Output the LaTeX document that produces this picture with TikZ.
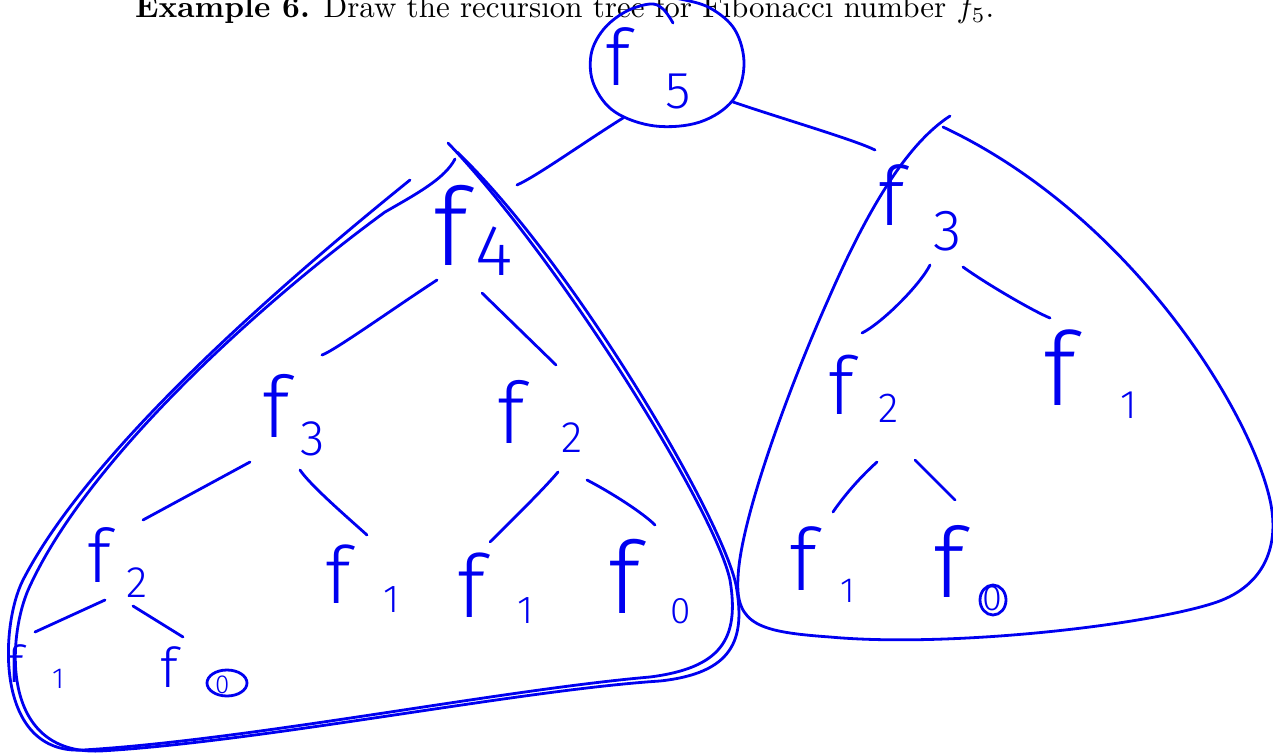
\documentclass[tikz,border=0pt]{standalone}
\usepackage{fontspec}
\usepackage{graphicx}
\newfontfamily\hand{Fira Sans Light}
\definecolor{inkblue}{RGB}{0,0,240}
\tikzset{
  ink/.style={draw=inkblue, line width=2.8pt, line cap=round, line join=round},
  lab/.style={anchor=base west, inner sep=0pt, text=inkblue},
}
% #1 f size, #2 offset of subscript, #3 drop, #4 subscript size, #5 subscript
\newcommand\fib[5]{\makebox[#2pt][l]{\fontsize{#1pt}{#1pt}\hand f}\raisebox{-#3pt}{\fontsize{#4pt}{#4pt}\hand #5}}
\begin{document}
\begin{tikzpicture}[x=1pt,y=-1pt]
\useasboundingbox (0,0) rectangle (1273,752);
\node[anchor=base west, inner sep=0pt] (title) at (135,17.5)
  {\resizebox{859pt}{!}{\textbf{Example 6.} Draw the recursion tree for Fibonacci number $f_5$.}};

% labels
\node[lab] (n5)  at (605,85)  {\fib{78}{60}{23}{52}{5}};
\node[lab] (n4)  at (433,265) {\fib{108}{42}{10}{72}{4}};
\node[lab] (n3R) at (878,225) {\fib{82}{55}{25}{58}{3}};
\node[lab] (n3L) at (262,437) {\fib{85}{38}{18}{50}{3}};
\node[lab] (n2M) at (497,443) {\fib{85}{64}{9}{44}{2}};
\node[lab] (n2R) at (828,414) {\fib{80}{50}{8}{42}{2}};
\node[lab] (n2L) at (87,582)  {\fib{74}{39}{15}{44}{2}};
\node[lab] (n1a) at (325,603) {\fib{79}{58}{9}{39}{1}};
\node[lab] (n1b) at (457,617) {\fib{87}{60}{6}{39}{1}};
\node[lab] (n0b) at (608,613) {\fib{100}{62}{10}{37}{0}};
\node[lab] (n1c) at (7,682)   {\fib{51}{45}{6}{29}{1}};
\node[lab] (n0c) at (160,687) {\fib{55}{55}{6}{26}{0}};
\node[lab] (n1d) at (789,590) {\fib{86}{51}{12}{35}{1}};
\node[lab] (n0d) at (933,597) {\fib{97}{49}{13}{36}{0}};
\node[lab] (n1e) at (1043,405){\fib{102}{77}{13}{40}{1}};

% circled zeros
\draw[ink] ([shift={(67,-4)}]n0c.base west) ellipse [x radius=20, y radius=13];
\draw[ink] ([shift={(60,3)}]n0d.base west) ellipse [x radius=13, y radius=15];

% circle round f5
\draw[ink] plot[smooth, tension=0.6] coordinates {(673,23) (663,9) (650,4) (625,12) (603,30) (591,55) (594,85) (615,112) (655,126) (700,122) (733,100) (744,65) (735,30) (710,8) (680,-1) (660,-3)};

% edges
\draw[ink] ([shift={(18,33)}]n5.base west) .. controls +(-40,25) and +(20,-9) .. ([shift={(84,-80)}]n4.base west);
\draw[ink] ([shift={(128,17)}]n5.base west) .. controls +(50,17) and +(-20,-10) .. ([shift={(-3,-75)}]n3R.base west);
\draw[ink] ([shift={(4,15)}]n4.base west) .. controls +(-40,26) and +(12,-4) .. ([shift={(60,-82)}]n3L.base west);
\draw[ink] ([shift={(49,28)}]n4.base west) -- ([shift={(59,-78)}]n2M.base west);
\draw[ink] ([shift={(-12,25)}]n3L.base west) -- ([shift={(56,-62)}]n2L.base west);
\draw[ink] ([shift={(38,33)}]n3L.base west) .. controls +(10,15) and +(-20,-18) .. ([shift={(42,-68)}]n1a.base west);
\draw[ink] ([shift={(61,29)}]n2M.base west) .. controls +(-15,18) and +(15,-15) .. ([shift={(33,-75)}]n1b.base west);
\draw[ink] ([shift={(90,37)}]n2M.base west) .. controls +(25,13) and +(-12,-12) .. ([shift={(47,-88)}]n0b.base west);
\draw[ink] ([shift={(18,18)}]n2L.base west) -- ([shift={(28,-50)}]n1c.base west);
\draw[ink] ([shift={(46,24)}]n2L.base west) -- ([shift={(23,-50)}]n0c.base west);
\draw[ink] ([shift={(52,40)}]n3R.base west) .. controls +(-10,20) and +(20,-10) .. ([shift={(34,-81)}]n2R.base west);
\draw[ink] ([shift={(85,42)}]n3R.base west) .. controls +(25,18) and +(-15,-6) .. ([shift={(7,-87)}]n1e.base west);
\draw[ink] ([shift={(49,48)}]n2R.base west) .. controls +(-20,18) and +(8,-12) .. ([shift={(44,-78)}]n1d.base west);
\draw[ink] ([shift={(87,46)}]n2R.base west) -- ([shift={(22,-97)}]n0d.base west);

% loop round the f4 subtree (two strokes)
\draw[ink] (410,180) .. controls (280,285) and (90,450) .. (23,580)
  .. controls (0,625) and (-6,755) .. (83,750)
  .. controls (250,740) and (500,690) .. (650,677)
  .. controls (720,668) and (740,640) .. (730,580)
  .. controls (715,510) and (560,260) .. (448,143);
\draw[ink] (455,159) .. controls (445,178) and (420,192) .. (385,212)
  .. controls (262,302) and (88,458) .. (29,588)
  .. controls (8,634) and (-2,755) .. (100,751)
  .. controls (260,742) and (520,690) .. (660,681)
  .. controls (733,673) and (746,640) .. (736,585)
  .. controls (721,515) and (572,262) .. (457,152);

% loop round the f3 subtree
\draw[ink] (950,116) .. controls (905,145) and (865,215) .. (828,300)
  .. controls (790,385) and (740,520) .. (738,578)
  .. controls (735,625) and (760,632) .. (830,637)
  .. controls (950,648) and (1150,625) .. (1217,602)
  .. controls (1265,585) and (1280,545) .. (1270,500)
  .. controls (1250,410) and (1130,215) .. (943,127);
\end{tikzpicture}
\end{document}
